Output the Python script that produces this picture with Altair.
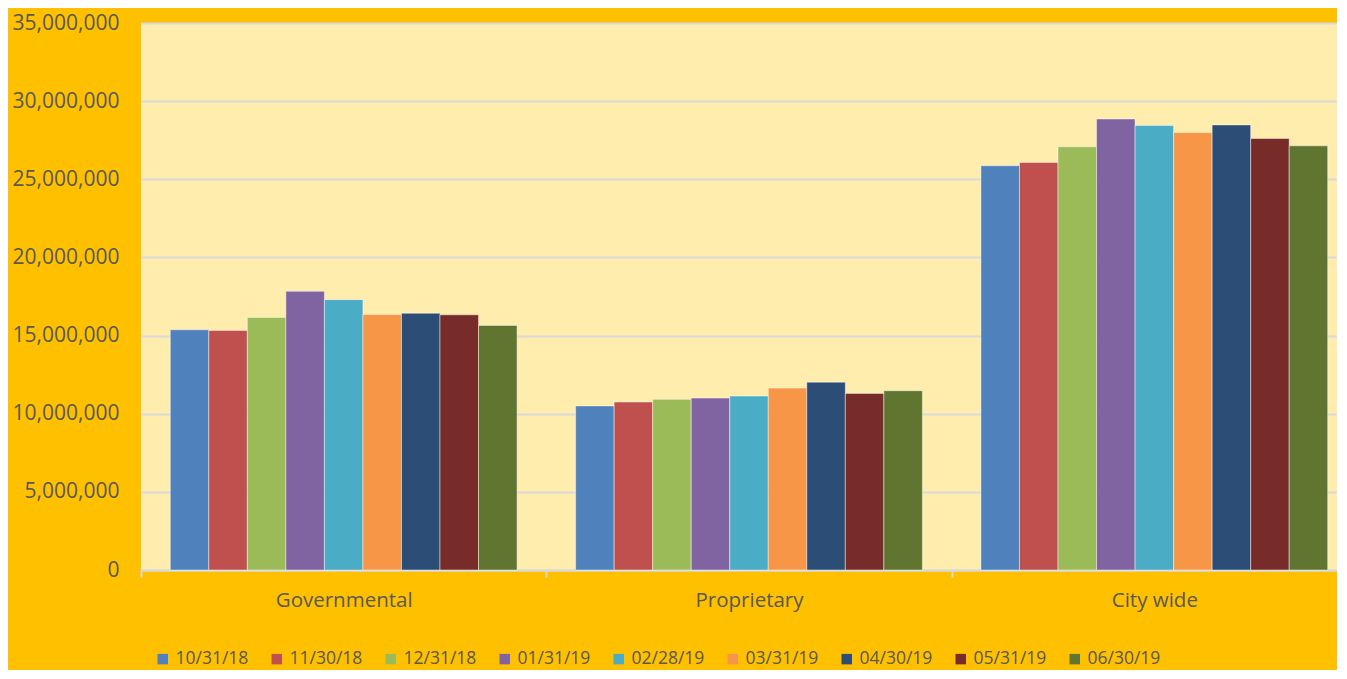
import altair as alt
import pandas as pd

categories = ["Governmental", "Proprietary", "City wide"]
dates = ["10/31/18", "11/30/18", "12/31/18", "01/31/19", "02/28/19",
         "03/31/19", "04/30/19", "05/31/19", "06/30/19"]
governmental = [15370000, 15330000, 16160000, 17830000, 17300000,
                16350000, 16430000, 16330000, 15650000]
proprietary = [10500000, 10750000, 10920000, 11000000, 11130000,
               11640000, 12020000, 11300000, 11470000]
city_wide = [25870000, 26080000, 27080000, 28860000, 28440000,
             27990000, 28480000, 27610000, 27140000]
colors = ["#4F81BD", "#C0504D", "#9BBB59", "#8064A2", "#4BACC6",
          "#F79646", "#2C4D75", "#772C2A", "#5F7530"]
y_ticks = [0, 5000000, 10000000, 15000000, 20000000, 25000000, 30000000, 35000000]

rows = []
for cat, vals in zip(categories, [governmental, proprietary, city_wide]):
    for d, v in zip(dates, vals):
        rows.append({"category": cat, "date": d, "value": v})
df = pd.DataFrame(rows)

FONT = "Open Sans"
TXT = "#595959"

chart = alt.Chart(df).mark_bar(
    stroke="white", strokeOpacity=0.45, strokeWidth=1
).encode(
    x=alt.X("category:N", sort=categories, title=None,
            scale=alt.Scale(range=[0, 1216], paddingInner=0, paddingOuter=0),
            axis=alt.Axis(labelAngle=0, labelFontSize=20.5, labelColor=TXT, labelFont=FONT,
                          domainColor="#D9D9D9", domainWidth=2,
                          tickColor="#D9D9D9", tickWidth=2, tickSize=7, tickBand="extent",
                          labelPadding=13, grid=False)),
    xOffset=alt.XOffset("date:N", sort=dates,
                        scale=alt.Scale(paddingInner=0, paddingOuter=0.76)),
    y=alt.Y("value:Q", title=None,
            scale=alt.Scale(domain=[0, 35000000], nice=False),
            axis=alt.Axis(values=y_ticks, format=",d", labelFontSize=21, labelColor=TXT,
                          labelFont=FONT, domain=False, ticks=False, labelPadding=22,
                          gridColor="#D9D9D9", gridWidth=2)),
    color=alt.Color("date:N", sort=dates, scale=alt.Scale(domain=dates, range=colors),
                    legend=alt.Legend(title=None, orient="none", legendX=13, legendY=627,
                                      direction="horizontal", columns=9,
                                      symbolType="square", symbolSize=110,
                                      symbolStrokeWidth=0, labelFontSize=17.5,
                                      labelColor=TXT, labelFont=FONT, labelOffset=4,
                                      columnPadding=19)),
).properties(
    width=1196, height=547,
    autosize=alt.AutoSizeParams(type="none"),
    padding={"left": 133, "top": 15, "right": 0, "bottom": 100},
    background="#FFC000",
).configure_view(
    fill="#FFEDAE", strokeWidth=0
)

chart.save("out.html", embed_options={"renderer": "svg", "actions": False})
